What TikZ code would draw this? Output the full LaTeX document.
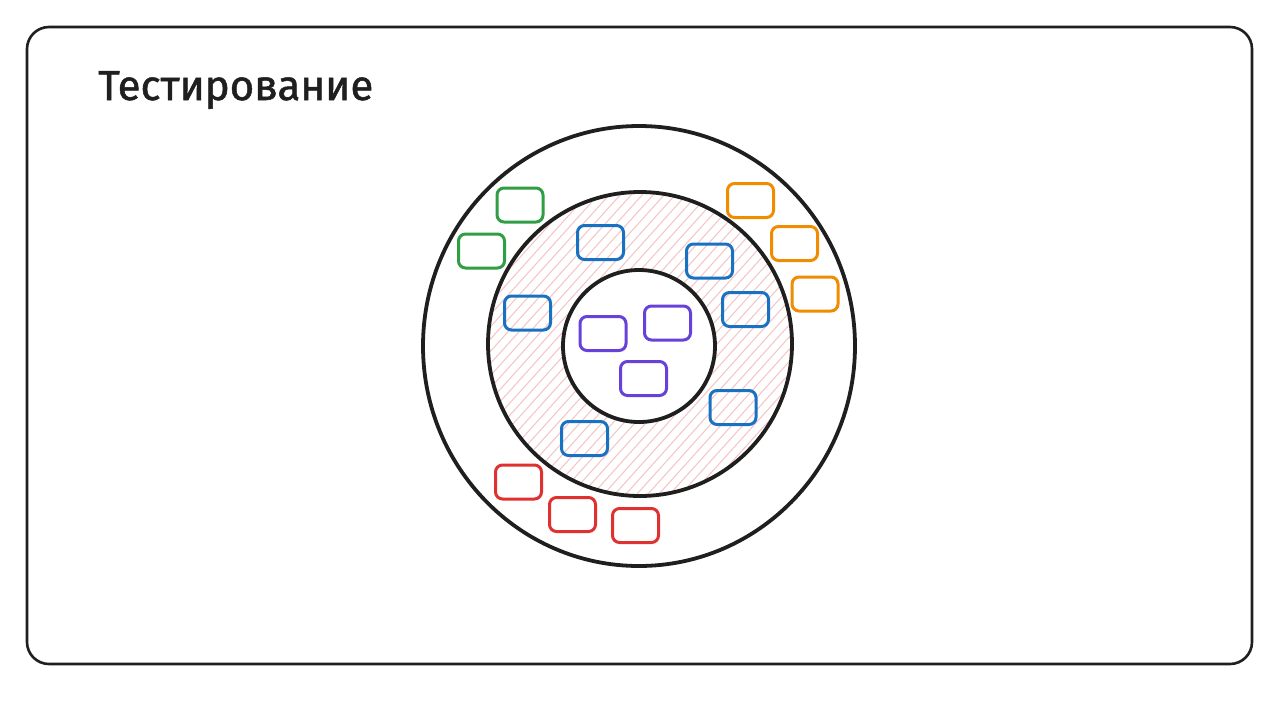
\documentclass[tikz,border=0pt]{standalone}
\usepackage{fontspec}
\setmainfont{Fira Sans}
\newfontfamily\titlefont{Fira Sans}[FakeBold=1.2]
\begin{document}
\begin{tikzpicture}[x=1pt,y=-1pt,
  ring/.style={draw=black!88,line width=3.8pt},
  card/.style={draw=#1,line width=3pt,rounded corners=7pt,minimum width=46pt,minimum height=34pt,inner sep=0pt},
  hatch/.style={draw=hatchred,line width=1pt}]
\definecolor{cgreen}{HTML}{2F9E44}
\definecolor{corange}{HTML}{F08C00}
\definecolor{cblue}{HTML}{1971C2}
\definecolor{cpurple}{HTML}{6741D9}
\definecolor{cred}{HTML}{E03131}
\definecolor{hatchred}{HTML}{F6C4C4}
\useasboundingbox (0,0) rectangle (1280,721);
\fill[white] (0,0) rectangle (1280,721);
% frame
\draw[black!88,line width=2.6pt,rounded corners=22pt] (27,27) rectangle (1252,664);
% title
\node[anchor=base west,inner sep=0pt,font=\titlefont\fontsize{42}{44}\selectfont,text=black!88] (title) at (98,100) {Тестирование};
% hatched annulus
\begin{scope}[even odd rule]
  \clip (640,344) ellipse (152 and 152) (639,346) ellipse (76 and 76);
  \foreach \a in {-418,-407,...,420}{
    \draw[hatch] (640+\a-180,544) -- (640+\a+180,144);
  }
\end{scope}
% rings
\draw[ring] (639,346) ellipse (216 and 220);
\draw[ring] (640,344) ellipse (152 and 152);
\draw[ring] (639,346) ellipse (76 and 76);
% green
\node[card=cgreen] (g1) at (520,205) {};
\node[card=cgreen] (g2) at (481.5,251) {};
% orange
\node[card=corange] (o1) at (750.5,200.5) {};
\node[card=corange] (o2) at (794.5,243.5) {};
\node[card=corange] (o3) at (815,294) {};
% blue
\node[card=cblue] (b1) at (600.5,242.5) {};
\node[card=cblue] (b2) at (709.5,261) {};
\node[card=cblue] (b3) at (527.5,313) {};
\node[card=cblue] (b4) at (745.5,309.5) {};
\node[card=cblue] (b5) at (733,407.5) {};
\node[card=cblue] (b6) at (584.5,438.5) {};
% purple
\node[card=cpurple] (p1) at (603,333.5) {};
\node[card=cpurple] (p2) at (667.5,323) {};
\node[card=cpurple] (p3) at (643.5,378.5) {};
% red
\node[card=cred] (r1) at (518.5,482) {};
\node[card=cred] (r2) at (572.5,514.5) {};
\node[card=cred] (r3) at (635.5,525.5) {};
\end{tikzpicture}
\end{document}
